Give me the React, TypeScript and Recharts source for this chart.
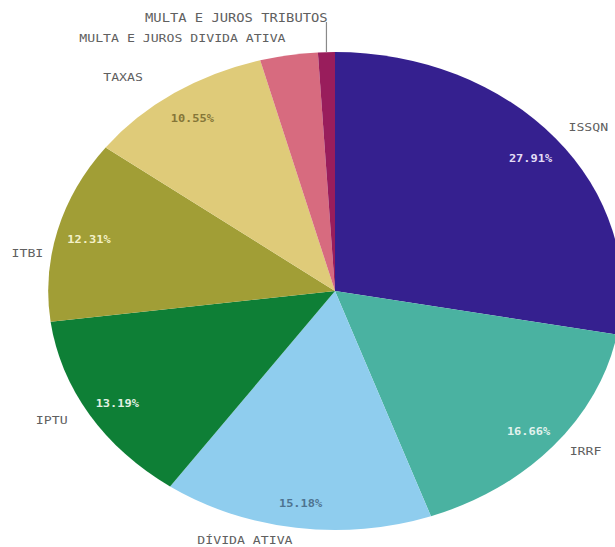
import React from 'react';
import { PieChart, Pie, Cell } from 'recharts';

const categories = [
  'ISSQN',
  'IRRF',
  'DÍVIDA ATIVA',
  'IPTU',
  'ITBI',
  'TAXAS',
  'MULTA E JUROS DIVIDA ATIVA',
  'MULTA E JUROS TRIBUTOS',
];
const shares = [27.91, 16.66, 15.18, 13.19, 12.31, 10.55, 3.25, 0.95];

const sliceColors = ['#35208F', '#4AB2A1', '#8FCDEE', '#0E7F36', '#A19E36', '#DFCB79', '#D76B7F', '#991D5C'];
const pctColors = ['#E4DDF6', '#E2F3EE', '#4E7390', '#E3F1E4', '#F4F1C8', '#857638', '#fff', '#fff'];
const labelAngleNudge = [-2, 3, -9, -2.5, 6.5, 5.5, 0, 0];
const labelRadiusExtra = [28, 24, 21, 30, 20, 38, 17, 30];

const data = categories.map((name, i) => ({ name, value: shares[i] }));

const SX = 1.2;
const W = 615 / SX;
const H = 547;
const CX = 335 / SX;
const CY = 291;
const R = 239;
const RAD = Math.PI / 180;
const FONT = '"DejaVu Sans Mono", monospace';

const renderLabel = (props: any) => {
  const { cx, cy, midAngle, outerRadius, index, value } = props;
  const items: React.ReactNode[] = [];
  if (index <= 5) {
    const a = (midAngle + labelAngleNudge[index]) * RAD;
    const rr = outerRadius + labelRadiusExtra[index];
    const x = cx + rr * Math.cos(a);
    const y = cy - rr * Math.sin(a);
    items.push(
      <text key="n" x={x} y={y} textAnchor="middle" dominantBaseline="central" fill="#606060" fontSize={11} fontFamily={FONT}>
        {categories[index]}
      </text>
    );
    const b = midAngle * RAD;
    const pr = outerRadius - 27;
    items.push(
      <text key="p" x={cx + pr * Math.cos(b)} y={cy - pr * Math.sin(b) + 3} textAnchor="middle" dominantBaseline="central" fill={pctColors[index]} fontSize={10} fontWeight="bold" fontFamily={FONT}>
        {value.toFixed(2) + '%'}
      </text>
    );
  } else if (index === 6) {
    const a = midAngle * RAD;
    const rr = outerRadius + labelRadiusExtra[index];
    items.push(
      <text key="n" x={cx + rr * Math.cos(a)} y={cy - rr * Math.sin(a)} textAnchor="end" dominantBaseline="central" fill="#606060" fontSize={11} fontFamily={FONT}>
        {categories[index]}
      </text>
    );
  } else {
    const a = midAngle * RAD;
    const x0 = cx + outerRadius * Math.cos(a);
    const y0 = cy - outerRadius * Math.sin(a);
    const y1 = cy - (outerRadius + labelRadiusExtra[index]);
    items.push(<line key="l" x1={x0} y1={y0} x2={x0} y2={y1} stroke="#8a8a8a" strokeWidth={1} />);
    items.push(
      <text key="n" x={x0 + 1} y={y1 - 4} textAnchor="end" dominantBaseline="central" fill="#606060" fontSize={11.5} fontFamily={FONT}>
        {categories[index]}
      </text>
    );
  }
  return <g key={'lab' + index}>{items}</g>;
};

export default function App() {
  return (
    <div style={{ position: 'fixed', left: 0, top: 0, width: 615, height: 547, overflow: 'hidden', background: '#fff' }}>
      <div style={{ width: W, height: H, transform: `scale(${SX}, 1)`, transformOrigin: '0 0' }}>
        <PieChart width={W} height={H} margin={{ top: 0, right: 0, bottom: 0, left: 0 }}>
          <Pie
            data={data}
            dataKey="value"
            nameKey="name"
            cx={CX}
            cy={CY}
            outerRadius={R}
            startAngle={90}
            endAngle={-270}
            stroke="none"
            label={renderLabel}
            labelLine={false}
            isAnimationActive={false}
          >
            {data.map((d, i) => (
              <Cell key={d.name} fill={sliceColors[i]} stroke="none" />
            ))}
          </Pie>
        </PieChart>
      </div>
    </div>
  );
}
